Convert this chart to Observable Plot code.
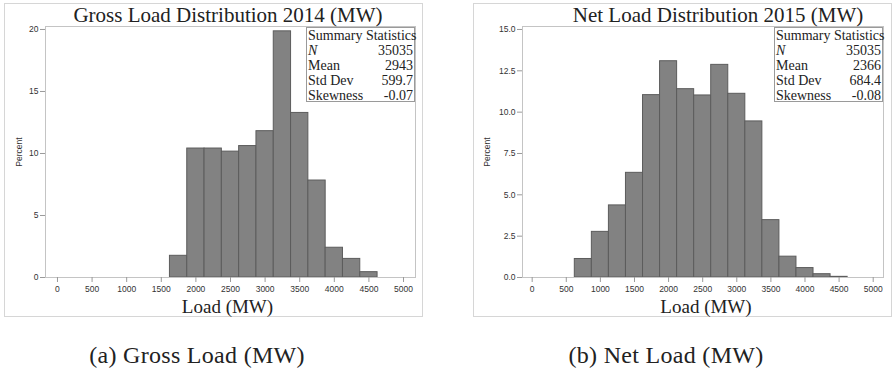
<!DOCTYPE html>
<html>
<head>
<meta charset="utf-8">
<script src="https://cdn.jsdelivr.net/npm/d3@7"></script>
<script src="https://cdn.jsdelivr.net/npm/@observablehq/plot@0.6"></script>
<style>
  html, body { margin: 0; padding: 0; background: #fff; }
  #root { position: relative; width: 893px; height: 374px; overflow: hidden; }
  .box { position: absolute; border: 1px solid #d6d6d6; box-sizing: border-box; }
  .title { position: absolute; font-family: "Liberation Serif", "Times New Roman", serif; font-size: 21px; color: #222; white-space: nowrap; transform: translateX(-50%); line-height: 1; }
  .xlab { position: absolute; font-family: "Liberation Serif", "Times New Roman", serif; font-size: 19px; color: #222; white-space: nowrap; transform: translateX(-50%); line-height: 1; background: #fff; padding: 0 4px; }
  .cap { position: absolute; font-family: "Liberation Serif", "Times New Roman", serif; font-size: 24px; color: #222; white-space: nowrap; transform: translateX(-50%); line-height: 1; letter-spacing: 0.3px; }
  .stats { position: absolute; border: 1px solid #9a9a9a; background: #fff; font-family: "Liberation Serif", "Times New Roman", serif; font-size: 14px; color: #222; box-sizing: border-box; padding: 0 1px; }
  .stats table { border-collapse: collapse; width: 100%; }
  .stats td { padding: 0; line-height: 15px; white-space: nowrap; }
  .stats td.v { text-align: right; }
  .stats .head { white-space: nowrap; line-height: 15px; }
  .plot { position: absolute; top: 0; }
</style>
</head>
<body>
<div id="root"></div>
<script>
// ---- data ----
const binWidth = 250;
const grossBins = [1750, 2000, 2250, 2500, 2750, 3000, 3250, 3500, 3750, 4000, 4250, 4500];
const grossPct  = [1.75, 10.4, 10.4, 10.15, 10.6, 11.8, 19.85, 13.27, 7.82, 2.4, 1.5, 0.43];
const netBins = [750, 1000, 1250, 1500, 1750, 2000, 2250, 2500, 2750, 3000, 3250, 3500, 3750, 4000, 4250, 4500];
const netPct  = [1.12, 2.76, 4.36, 6.33, 11.03, 13.08, 11.39, 11.01, 12.86, 11.11, 9.44, 3.47, 1.26, 0.57, 0.2, 0.04];
const xTicks = [0, 500, 1000, 1500, 2000, 2500, 3000, 3500, 4000, 4500, 5000];
const grossYTicks = [0, 5, 10, 15, 20];
const netYTicks = [0, 2.5, 5, 7.5, 10, 12.5, 15];
const statLabels = ["N", "Mean", "Std Dev", "Skewness"];
const grossStats = ["35035", "2943", "599.7", "-0.07"];
const netStats = ["35035", "2366", "684.4", "-0.08"];
const titles = ["Gross Load Distribution 2014 (MW)", "Net Load Distribution 2015 (MW)"];
const captions = ["(a) Gross Load (MW)", "(b) Net Load (MW)"];

const root = document.getElementById("root");

function el(cls, css, html) {
  const d = document.createElement("div");
  d.className = cls;
  Object.assign(d.style, css);
  if (html != null) d.innerHTML = html;
  root.appendChild(d);
  return d;
}

function chart({bins, pct, width, marginLeft, marginRight, xDomain, yDomain, yTicks, yFmt, labelOffset}) {
  const data = bins.map((m, i) => ({x1: m - binWidth / 2, x2: m + binWidth / 2, y: pct[i]}));
  return Plot.plot({
    width, height: 320,
    marginLeft, marginRight, marginTop: 26, marginBottom: 43,
    x: {domain: xDomain},
    y: {domain: yDomain},
    style: {fontFamily: "'Liberation Sans', Arial, sans-serif", fontSize: "8.5px", color: "#333", background: "transparent", overflow: "visible"},
    marks: [
      Plot.rectY(data, {x1: "x1", x2: "x2", y: "y", fill: "#828282", stroke: "#5c5c5c", strokeWidth: 1, inset: 0}),
      Plot.frame({stroke: "#c4c4c4"}),
      Plot.axisX({ticks: xTicks, tickSize: 5, tickPadding: 3, tickFormat: d3.format("d"), stroke: "#9a9a9a", fill: "#333", label: null}),
      Plot.axisY({ticks: yTicks, tickSize: 5, tickPadding: 2, tickFormat: yFmt, stroke: "#9a9a9a", fill: "#333",
                  label: "Percent", labelAnchor: "center", labelOffset, labelArrow: false})
    ]
  });
}

// panel boxes
el("box", {left: "4px", top: "3px", width: "419px", height: "314px"});
el("box", {left: "473px", top: "3px", width: "419px", height: "314px"});

// charts
const g = chart({bins: grossBins, pct: grossPct, width: 450, marginLeft: 45, marginRight: 35,
  xDomain: [-173, 5173], yDomain: [0, 20.24], yTicks: grossYTicks, yFmt: d3.format("d"), labelOffset: 30});
g.classList.add("plot"); g.style.left = "0px"; root.appendChild(g);

const n = chart({bins: netBins, pct: netPct, width: 443, marginLeft: 72, marginRight: 10,
  xDomain: [-142, 5151], yDomain: [0, 15.18], yTicks: netYTicks, yFmt: d3.format(".1f"), labelOffset: 39});
n.classList.add("plot"); n.style.left = "450px"; root.appendChild(n);

// titles
el("title", {left: "228px", top: "5px"}, titles[0]);
el("title", {left: "718px", top: "5px"}, titles[1]);

// x labels
el("xlab", {left: "227.5px", top: "297px"}, "Load (MW)");
el("xlab", {left: "706px", top: "297px"}, "Load (MW)");

// stats boxes
function stats(left, width, vals) {
  let rows = `<div class="head">Summary Statistics</div><table>`;
  statLabels.forEach((l, i) => {
    const lab = l === "N" ? "<i>N</i>" : l;
    rows += `<tr><td>${lab}</td><td class="v">${vals[i]}</td></tr>`;
  });
  rows += `</table>`;
  el("stats", {left: left + "px", top: "27px", width: width + "px", height: "75px"}, rows);
}
stats(306, 109, grossStats);
stats(774, 109, netStats);

// captions
el("cap", {left: "197px", top: "343px"}, captions[0]);
el("cap", {left: "666px", top: "343px"}, captions[1]);
</script>
</body>
</html>
